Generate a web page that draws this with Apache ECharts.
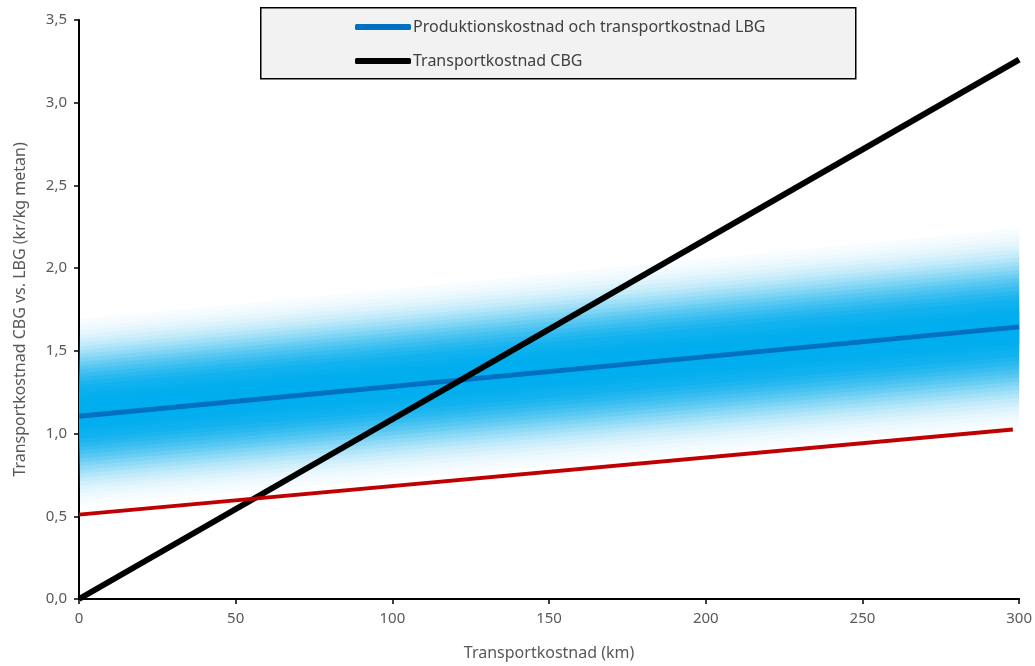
<!DOCTYPE html>
<html>
<head>
<meta charset="utf-8">
<script src="https://cdn.jsdelivr.net/npm/echarts@6/dist/echarts.min.js"></script>
<style>html,body{margin:0;padding:0;background:#fff}#c{width:1035px;height:666px}</style>
</head>
<body>
<div id="c"></div>
<script>
// ---- data ----
var xRange = [0, 300];
var xTicks = [0, 50, 100, 150, 200, 250, 300];
var yTicks = [0, 0.5, 1.0, 1.5, 2.0, 2.5, 3.0, 3.5];
var seriesNames = ['Produktionskostnad och transportkostnad LBG', 'Transportkostnad CBG'];
var lbgX = [0, 300];
var lbgY = [1.105, 1.645];
var cbgX = [0, 300];
var cbgY = [0.0, 3.26];
var redX = [0, 298];
var redY = [0.51, 1.025];
// uncertainty band around LBG (centre and half-width at x = 0 and x = 300)
var bandX = [0, 300];
var bandCenter = [1.13, 1.64];
var bandHalfWidth = [0.56, 0.6];

function pairs(xs, ys) { return xs.map(function (x, i) { return [x, ys[i]]; }); }

// band layers (styling): nested polygons with opacity giving a soft profile
var N = 24;
var layers = [];
var prevI = 0;
for (var k = N; k >= 1; k--) {
  var f = k / N;
  var I = Math.min(0.995, Math.exp(-Math.pow(f / 0.66, 3)));
  var a = 1 - (1 - I) / (1 - prevI);
  prevI = I;
  layers.push({ f: f, a: a });
}

var chart = echarts.init(document.getElementById('c'), null, { renderer: 'canvas' });
var labelColor = '#595959';
var font = 'Noto Sans';

var option = {
  animation: false,
  backgroundColor: '#ffffff',
  grid: { left: 79, right: 14, top: 20, bottom: 66, containLabel: false },
  graphic: [{
    type: 'rect', left: 260, top: 7, z: 0,
    shape: { width: 595, height: 71 },
    style: { fill: '#f2f2f2', stroke: '#000', lineWidth: 1.5 }
  }],
  legend: {
    orient: 'vertical', left: 350, top: 14, z: 5,
    itemWidth: 56, itemHeight: 6, itemGap: 18,
    icon: 'roundRect',
    data: seriesNames,
    textStyle: { color: '#404040', fontSize: 16, fontFamily: font, padding: [0, 0, 0, -3] }
  },
  xAxis: {
    type: 'value', min: xRange[0], max: xRange[1], interval: 50,
    name: 'Transportkostnad (km)', nameLocation: 'middle', nameGap: 46,
    nameTextStyle: { color: labelColor, fontSize: 16, fontFamily: font },
    axisLine: { onZero: false, lineStyle: { color: '#000', width: 2 } },
    axisTick: { show: true, length: 5, lineStyle: { color: '#000', width: 1.5 } },
    axisLabel: { color: labelColor, fontSize: 15, fontFamily: font, margin: 12 },
    splitLine: { show: false }
  },
  yAxis: {
    type: 'value', min: 0, max: 3.5, interval: 0.5,
    name: 'Transportkostnad CBG vs. LBG (kr/kg metan)', nameLocation: 'middle', nameGap: 51,
    nameTextStyle: { color: labelColor, fontSize: 16, fontFamily: font },
    axisLine: { show: true, lineStyle: { color: '#000', width: 2 } },
    axisTick: { show: true, length: 5, lineStyle: { color: '#000', width: 1.5 } },
    axisLabel: {
      color: labelColor, fontSize: 15, fontFamily: font, margin: 12,
      formatter: function (v) { return v.toFixed(1).replace('.', ','); }
    },
    splitLine: { show: false }
  },
  series: [
    {
      type: 'custom', name: 'band', silent: true, z: 1,
      data: [0],
      renderItem: function (params, api) {
        var children = layers.map(function (L) {
          var p1 = api.coord([bandX[0], bandCenter[0] - bandHalfWidth[0] * L.f]);
          var p2 = api.coord([bandX[1], bandCenter[1] - bandHalfWidth[1] * L.f]);
          var p3 = api.coord([bandX[1], bandCenter[1] + bandHalfWidth[1] * L.f]);
          var p4 = api.coord([bandX[0], bandCenter[0] + bandHalfWidth[0] * L.f]);
          return {
            type: 'polygon',
            shape: { points: [p1, p2, p3, p4] },
            style: { fill: 'rgba(0,174,239,' + L.a.toFixed(4) + ')' }
          };
        });
        return { type: 'group', children: children };
      }
    },
    {
      type: 'line', name: seriesNames[0], z: 3,
      data: pairs(lbgX, lbgY), symbol: 'none', color: '#0070c0',
      lineStyle: { color: '#0070c0', width: 5 }
    },
    {
      type: 'line', name: seriesNames[1], z: 4,
      data: pairs(cbgX, cbgY), symbol: 'none', color: '#000000',
      lineStyle: { color: '#000000', width: 6 }
    },
    {
      type: 'line', name: 'red', z: 5,
      data: pairs(redX, redY), symbol: 'none', color: '#c00000',
      lineStyle: { color: '#c00000', width: 4 }
    }
  ]
};
chart.setOption(option);
</script>
</body>
</html>
